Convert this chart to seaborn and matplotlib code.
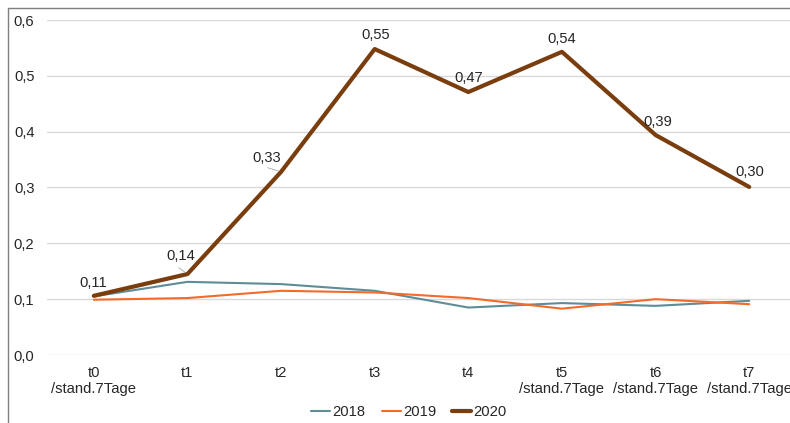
import seaborn as sns
import matplotlib.pyplot as plt
import pandas as pd
from matplotlib.lines import Line2D

# Data
zeitpunkte = ['t0\n/stand.7Tage', 't1', 't2', 't3', 't4',
              't5\n/stand.7Tage', 't6\n/stand.7Tage', 't7\n/stand.7Tage']
werte_2018 = [0.105, 0.131, 0.127, 0.115, 0.085, 0.093, 0.088, 0.097]
werte_2019 = [0.099, 0.102, 0.115, 0.112, 0.102, 0.083, 0.100, 0.091]
werte_2020 = [0.106, 0.145, 0.328, 0.548, 0.471, 0.543, 0.394, 0.301]
labels_2020 = ['0,11', '0,14', '0,33', '0,55', '0,47', '0,54', '0,39', '0,30']
yticks = [0.0, 0.1, 0.2, 0.3, 0.4, 0.5, 0.6]

jahre = ['2018', '2019', '2020']
farben = {'2018': '#5E8C97', '2019': '#F26B2A', '2020': '#7A3D0E'}
breiten = {'2018': 1.5, '2019': 1.5, '2020': 3.0}

df = pd.DataFrame({
    'Zeitpunkt': zeitpunkte * 3,
    'Wert': werte_2018 + werte_2019 + werte_2020,
    'Jahr': ['2018'] * 8 + ['2019'] * 8 + ['2020'] * 8,
})

sns.set_style('white')
plt.rcParams['font.family'] = ['Liberation Sans', 'DejaVu Sans']
fs = 10.6

fig = plt.figure(figsize=(7.9, 4.23), dpi=100)
ax = fig.add_axes([47 / 790, 68 / 423, 749 / 790, 335 / 423])

for jahr in jahre:
    sub = df[df['Jahr'] == jahr]
    sns.lineplot(data=sub, x='Zeitpunkt', y='Wert', color=farben[jahr],
                 linewidth=breiten[jahr], sort=False, ax=ax, label=jahr)

# data labels for 2020 (offsets in pixels)
offsets = [(-1, 13), (-7, 18), (-14, 14), (1, 14), (0, 14), (0, 13), (2, 13), (1, 15)]
for i, (v, txt) in enumerate(zip(werte_2020, labels_2020)):
    ax.annotate(txt, (i, v), xytext=offsets[i], textcoords='offset pixels',
                ha='center', va='center', fontsize=fs, color='#262626')
# leader lines
ax.annotate('', (1, werte_2020[1]), xytext=(-11, 8), textcoords='offset pixels',
            arrowprops=dict(arrowstyle='-', color='#A6A6A6', lw=0.6))
ax.annotate('', (2, werte_2020[2]), xytext=(-16, 5), textcoords='offset pixels',
            arrowprops=dict(arrowstyle='-', color='#A6A6A6', lw=0.6))

ax.set_xlim(-0.5, 7.5)
ax.set_ylim(0, 0.6)
ax.set_yticks(yticks)
ax.set_yticklabels([f'{t:.1f}'.replace('.', ',') for t in yticks])
ax.set_xticks(range(len(zeitpunkte)))
ax.set_xticklabels(zeitpunkte, linespacing=1.15)
ax.tick_params(axis='both', length=0, labelsize=fs, labelcolor='#262626')
ax.tick_params(axis='y', pad=9)
ax.tick_params(axis='x', pad=8)
ax.grid(axis='y', color='#D9D9D9', linewidth=1)
ax.set_xlabel('')
ax.set_ylabel('')
for s in ax.spines.values():
    s.set_visible(False)

ax.legend(loc='center', bbox_to_anchor=(409 / 790, 11 / 423),
          bbox_transform=fig.transFigure, ncol=3, frameon=False,
          fontsize=fs, handlelength=1.3, handletextpad=0.15, columnspacing=1.1)

# chart border (left and top)
fig.add_artist(Line2D([8 / 790, 8 / 790], [0, 1 - 8 / 423], color='#7F7F7F', lw=1))
fig.add_artist(Line2D([8 / 790, 1], [1 - 8 / 423, 1 - 8 / 423], color='#7F7F7F', lw=1))

plt.savefig('out.png', dpi=100)
